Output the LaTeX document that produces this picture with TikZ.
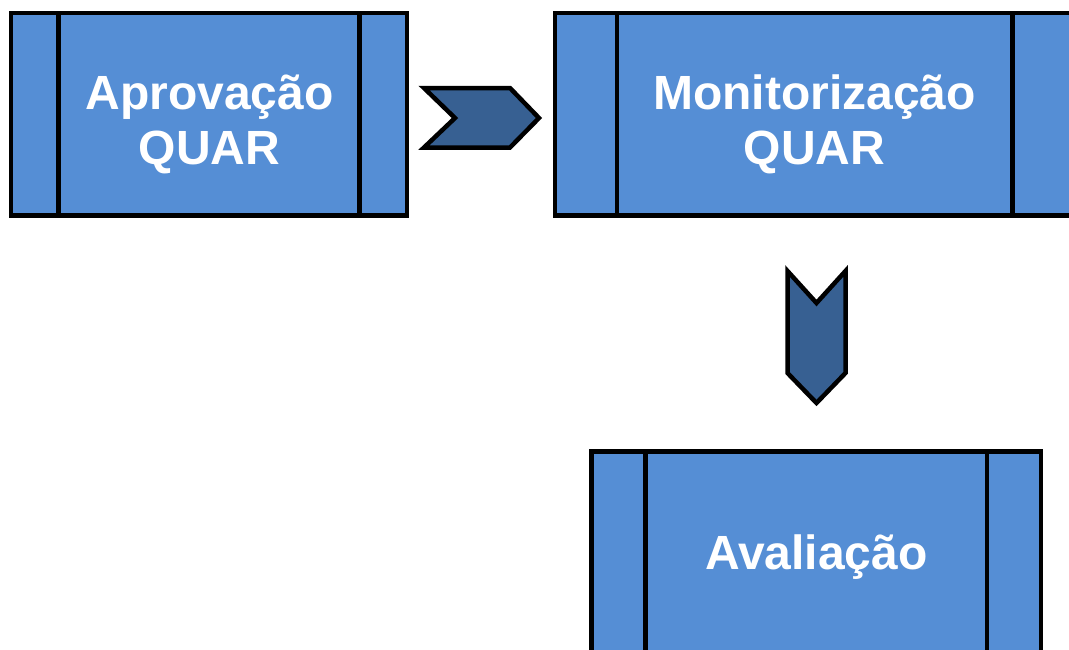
\documentclass[tikz,border=0pt]{standalone}
\usepackage{fontspec}
\setmainfont{Liberation Sans}
\usetikzlibrary{calc}
\definecolor{boxblue}{RGB}{85,142,213}
\definecolor{chevblue}{RGB}{55,96,146}
\tikzset{
  procbox/.style={draw=black, fill=boxblue, line width=4.5pt, rectangle,
    inner sep=0pt, outer sep=0pt},
  boxtext/.style={text=white, align=center, inner sep=0pt,
    font=\fontsize{48}{55}\selectfont\bfseries},
  divider/.style={draw=black, line width=4.5pt},
  chevron/.style={draw=black, fill=chevblue, line width=4.5pt, line join=miter},
}
\begin{document}
\begin{tikzpicture}[x=1pt, y=-1pt]
  \useasboundingbox (0,0) rectangle (1069,649);
  \clip (0,0) rectangle (1069,649);

  % process boxes with side strips
  \node[procbox, minimum width=396pt, minimum height=202.5pt] (b1) at (209,114.25) {};
  \node[procbox, minimum width=519.5pt, minimum height=202.5pt] (b2) at (814.75,114.25) {};
  \node[procbox, minimum width=449.5pt, minimum height=202.5pt] (b3) at (816.25,552.75) {};

  \draw[divider] ($(b1.north west)+(47.5,0)$) -- ($(b1.south west)+(47.5,0)$);
  \draw[divider] ($(b1.north east)+(-47.5,0)$) -- ($(b1.south east)+(-47.5,0)$);
  \draw[divider] ($(b2.north west)+(62,0)$) -- ($(b2.south west)+(62,0)$);
  \draw[divider] ($(b2.north east)+(-62,0)$) -- ($(b2.south east)+(-62,0)$);
  \draw[divider] ($(b3.north west)+(54,0)$) -- ($(b3.south west)+(54,0)$);
  \draw[divider] ($(b3.north east)+(-54,0)$) -- ($(b3.south east)+(-54,0)$);

  % box captions
  \node[boxtext] (t1) at (209.5,124) {Aprovação\\QUAR};
  \node[boxtext] (t2) at (814.5,124) {Monitorização\\QUAR};
  \node[boxtext] (t3) at (816.5,557) {Avaliação};

  % chevrons between the steps
  \coordinate (c1) at (481.5,118);
  \coordinate (c2) at (816.5,337);
  \draw[chevron] ($(c1)+(-57.5,-30)$) -- ($(c1)+(28.5,-30)$) -- ($(c1)+(57.5,0)$)
    -- ($(c1)+(28.5,29.5)$) -- ($(c1)+(-57.5,29.5)$) -- ($(c1)+(-26.5,0)$) -- cycle;
  \draw[chevron] ($(c2)+(-29,-66)$) -- ($(c2)+(0,-34)$) -- ($(c2)+(29,-66)$)
    -- ($(c2)+(29,36)$) -- ($(c2)+(0,66)$) -- ($(c2)+(-29,36)$) -- cycle;
\end{tikzpicture}
\end{document}
